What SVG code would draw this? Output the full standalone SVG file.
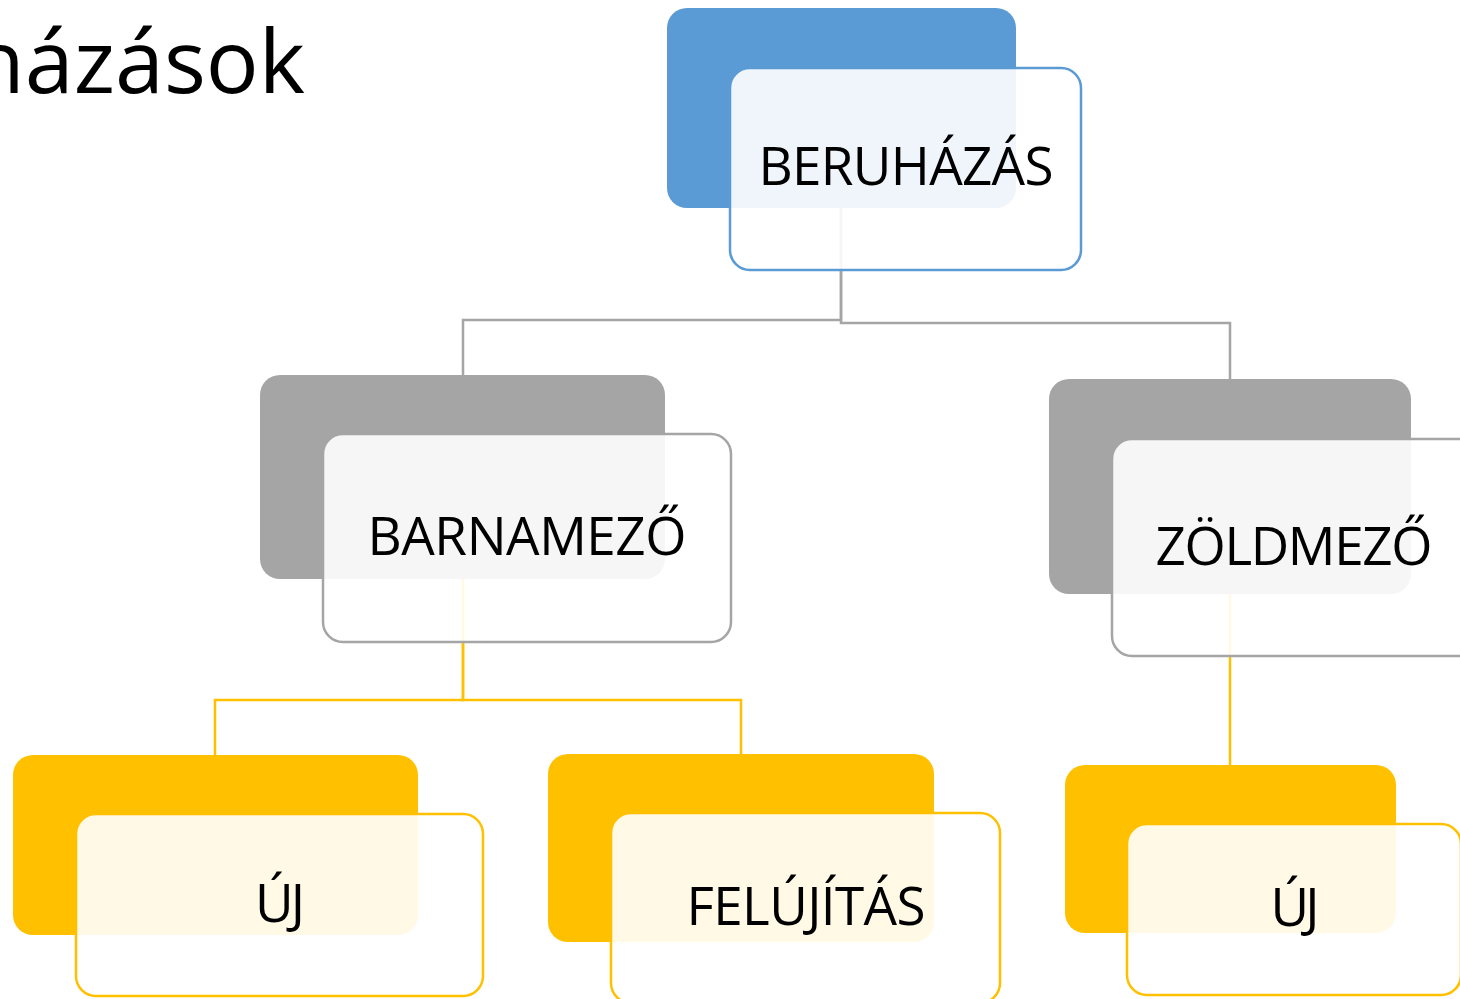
<svg xmlns="http://www.w3.org/2000/svg" width="1460" height="999" viewBox="0 0 1460 999">
<style>
.bg{fill:#ffffff}
.blue{fill:#5B9BD5}
.gray{fill:#A5A5A5}
.yel{fill:#FFC000}
.front{fill:#ffffff;fill-opacity:0.9;stroke-width:2.5}
.fb{stroke:#5B9BD5}
.fg{stroke:#A5A5A5}
.fy{stroke:#FFC000}
.conn{fill:none;stroke-width:2.5}
.label{font-family:"Open Sans","Liberation Sans",sans-serif;font-size:53px;fill:#000;text-anchor:middle}
.title{font-family:"Open Sans","Liberation Sans",sans-serif;font-size:88px;fill:#000;text-anchor:end}
</style>
<rect class="bg" x="0" y="0" width="1460" height="999"/>
<text class="title" x="305" y="93">Beruházások</text>
<g id="connectors">
  <path class="conn" stroke="#A5A5A5" d="M841,208 V320 H463 V375"/>
  <path class="conn" stroke="#A5A5A5" d="M841,208 V323 H1230 V379"/>
  <path class="conn" stroke="#FFC000" d="M463,579 V700 H215 V755"/>
  <path class="conn" stroke="#FFC000" d="M463,579 V700 H741 V754"/>
  <path class="conn" stroke="#FFC000" d="M1230,594 V765"/>
</g>
<g id="beruhazas">
  <rect class="blue" x="667" y="8" width="349" height="200" rx="20"/>
  <rect class="front fb" x="730" y="68" width="351" height="202" rx="20"/>
  <text class="label" x="906" y="185" textLength="295">BERUHÁZÁS</text>
</g>
<g id="barnamezo">
  <rect class="gray" x="260" y="375" width="405" height="204" rx="20"/>
  <rect class="front fg" x="323" y="434" width="408" height="208" rx="20"/>
  <text class="label" x="527" y="555" textLength="319">BARNAMEZŐ</text>
</g>
<g id="zoldmezo">
  <rect class="gray" x="1049" y="379" width="362" height="215" rx="20"/>
  <rect class="front fg" x="1112" y="439" width="366" height="217" rx="20"/>
  <text class="label" x="1294" y="565" textLength="277">ZÖLDMEZŐ</text>
</g>
<g id="uj-left">
  <rect class="yel" x="13" y="755" width="405" height="180" rx="20"/>
  <rect class="front fy" x="76" y="814" width="407" height="182" rx="20"/>
  <text class="label" x="280" y="922" textLength="50">ÚJ</text>
</g>
<g id="felujitas">
  <rect class="yel" x="548" y="754" width="386" height="188" rx="20"/>
  <rect class="front fy" x="611" y="813" width="389" height="190" rx="20"/>
  <text class="label" x="806" y="925" textLength="239">FELÚJÍTÁS</text>
</g>
<g id="uj-right">
  <rect class="yel" x="1065" y="765" width="331" height="168" rx="20"/>
  <rect class="front fy" x="1127" y="824" width="334" height="171" rx="20"/>
  <text class="label" x="1295" y="926" textLength="49">ÚJ</text>
</g>
</svg>
